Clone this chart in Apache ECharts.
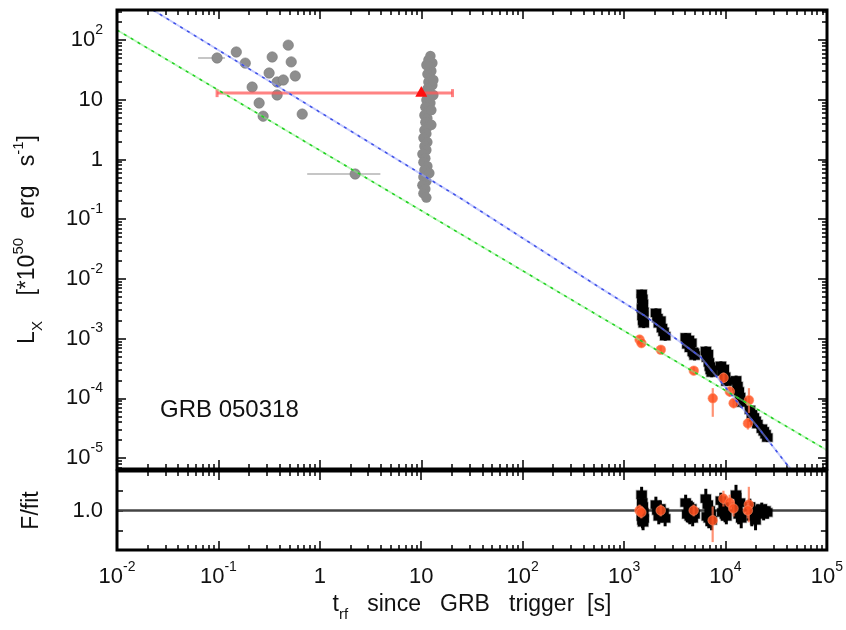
<!DOCTYPE html>
<html><head><meta charset="utf-8">
<script src="https://cdn.jsdelivr.net/npm/echarts@6/dist/echarts.min.js"></script>
<style>html,body{margin:0;padding:0;background:#fff}#c{width:846px;height:630px}</style>
</head><body><div id="c"></div>
<script>
// ---------------- data ----------------
const xRange = [1e-2, 1e5];
const yRange = [6.55e-6, 318];
const resRange = [0, 2];
const xTickExps = [-2, -1, 0, 1, 2, 3, 4, 5];
const yTickExps = [-5, -4, -3, -2, -1, 0, 1, 2];
const resTickVals = [0.5, 1.0, 1.5];
const resTickLabels = {'1': '1.0'};

// early gray (BAT/early) points
const earlyT = [0.097, 0.150, 0.184, 0.339, 0.488, 0.522, 0.572, 0.316, 0.379, 0.436, 0.215, 0.379, 0.252, 0.276, 0.67, 2.23];
const earlyL = [50, 63, 41, 52, 82, 43, 25, 28, 19.8, 21.4, 16.3, 12, 8.8, 5.3, 5.75, 0.57];
const earlyTlo = [0.063, null, null, null, null, null, null, null, null, null, null, null, null, null, null, 0.75];
const earlyThi = [0.116, null, null, null, null, null, null, null, null, null, null, null, null, null, null, 3.95];

// gray column near 10 s
const colT = [12.30, 11.75, 12.87, 12.02, 12.58, 11.49, 12.30, 11.75, 12.87, 11.49, 10.97, 12.02, 11.23, 12.30, 10.97, 11.75, 10.73, 11.49, 10.97, 11.75, 10.73, 11.23, 10.49, 11.49, 10.73, 11.23, 10.25, 10.97, 10.49, 11.49, 10.73, 12.02, 10.49, 11.23, 10.25, 10.97, 10.49, 11.23, 11.23, 13.16, 13.16, 12.58, 12.58];
const colL = [54.0, 46.2, 41.2, 35.3, 30.3, 26.9, 23.1, 19.8, 17.6, 15.1, 13.5, 11.5, 9.9, 8.8, 7.5, 6.5, 5.5, 4.9, 4.2, 3.6, 3.1, 2.7, 2.3, 1.95, 1.67, 1.44, 1.23, 1.05, 0.90, 0.77, 0.66, 0.59, 0.51, 0.43, 0.37, 0.32, 0.27, 0.23, 38.1, 21.4, 12.0, 6.7, 3.8];

// red point with horizontal error bar
const redT = [10], redL = [12.9], redTlo = [0.097], redThi = [20.3];

// late XRT (black), grouped in orbits
const xrtT = [1490, 1500, 1510, 1520, 1530, 1540, 1550, 1560,
  2060, 2130, 2200, 2280, 2360, 2450, 2540,
  4050, 4200, 4350, 4450, 4600, 4750, 4880, 4950,
  6400, 6550, 6700, 6850, 7000, 7150, 7300,
  9000, 9300, 9600, 9900, 10200,
  12700, 13100, 13500, 13900, 14300,
  17400, 18200, 19000, 19800, 20600,
  22800, 23800, 24800, 25800];
const xrtL = [5.6e-3, 3.2e-3, 4.6e-3, 2.4e-3, 3.8e-3, 2.0e-3, 2.8e-3, 1.8e-3,
  2.7e-3, 2.2e-3, 1.8e-3, 2.0e-3, 1.5e-3, 1.3e-3, 1.1e-3,
  1.05e-3, 8.0e-4, 9.5e-4, 7.0e-4, 8.5e-4, 6.0e-4, 5.8e-4, 5.2e-4,
  6.2e-4, 4.8e-4, 5.5e-4, 4.0e-4, 3.4e-4, 3.0e-4, 2.7e-4,
  3.5e-4, 2.8e-4, 3.1e-4, 2.3e-4, 1.9e-4,
  2.0e-4, 1.6e-4, 1.3e-4, 1.05e-4, 8.5e-5,
  6.4e-5, 5.4e-5, 4.8e-5, 4.2e-5, 3.7e-5,
  3.1e-5, 2.8e-5, 2.5e-5, 2.2e-5];
const xrtLlo = [4.7e-3, 2.7e-3, 3.9e-3, 2.0e-3, 3.2e-3, 1.7e-3, 2.35e-3, 1.5e-3,
  2.3e-3, 1.85e-3, 1.5e-3, 1.7e-3, 1.25e-3, 1.1e-3, 0.92e-3,
  8.8e-4, 6.7e-4, 8.0e-4, 5.9e-4, 7.1e-4, 5.0e-4, 4.8e-4, 4.3e-4,
  5.2e-4, 4.0e-4, 4.6e-4, 3.35e-4, 2.85e-4, 2.5e-4, 2.25e-4,
  2.9e-4, 2.35e-4, 2.6e-4, 1.9e-4, 1.6e-4,
  1.65e-4, 1.33e-4, 1.08e-4, 8.7e-5, 7.0e-5,
  5.3e-5, 4.5e-5, 4.0e-5, 3.5e-5, 3.1e-5,
  2.6e-5, 2.35e-5, 2.1e-5, 1.85e-5];
const xrtLhi = [6.6e-3, 3.8e-3, 5.4e-3, 2.85e-3, 4.5e-3, 2.35e-3, 3.3e-3, 2.1e-3,
  3.2e-3, 2.6e-3, 2.1e-3, 2.35e-3, 1.75e-3, 1.55e-3, 1.3e-3,
  1.24e-3, 9.4e-4, 1.12e-3, 8.3e-4, 1.0e-3, 7.1e-4, 6.9e-4, 6.2e-4,
  7.4e-4, 5.7e-4, 6.5e-4, 4.75e-4, 4.05e-4, 3.55e-4, 3.2e-4,
  4.15e-4, 3.3e-4, 3.7e-4, 2.75e-4, 2.25e-4,
  2.4e-4, 1.9e-4, 1.55e-4, 1.25e-4, 1.0e-4,
  7.6e-5, 6.4e-5, 5.7e-5, 5.0e-5, 4.4e-5,
  3.7e-5, 3.3e-5, 3.0e-5, 2.6e-5];
// residuals of XRT
const xrtRes = [1.4, 0.85, 1.2, 0.75, 1.1, 0.7, 0.95, 0.8,
  1.15, 1.0, 0.85, 1.05, 0.9, 0.95, 0.8,
  1.2, 0.9, 1.1, 0.85, 1.05, 0.8, 0.95, 0.9,
  1.3, 0.85, 1.15, 0.8, 1.0, 0.9, 0.75,
  1.25, 0.95, 1.1, 0.9, 0.85,
  1.4, 1.1, 0.9, 1.2, 0.8,
  1.1, 0.85, 1.0, 0.75, 0.95,
  1.05, 0.9, 1.0, 0.95];
const xrtResLo = [1.2, 0.65, 1.0, 0.55, 0.9, 0.5, 0.75, 0.6,
  0.95, 0.8, 0.65, 0.85, 0.7, 0.75, 0.6,
  1.0, 0.7, 0.9, 0.65, 0.85, 0.6, 0.75, 0.7,
  1.05, 0.6, 0.9, 0.55, 0.75, 0.65, 0.5,
  1.05, 0.75, 0.9, 0.7, 0.65,
  1.15, 0.85, 0.65, 0.95, 0.55,
  0.9, 0.6, 0.8, 0.5, 0.75,
  0.9, 0.75, 0.85, 0.8];
const xrtResHi = [1.6, 1.05, 1.4, 0.95, 1.3, 0.9, 1.15, 1.0,
  1.35, 1.2, 1.05, 1.25, 1.1, 1.15, 1.0,
  1.4, 1.1, 1.3, 1.05, 1.25, 1.0, 1.15, 1.1,
  1.55, 1.1, 1.4, 1.05, 1.25, 1.15, 1.0,
  1.45, 1.15, 1.3, 1.1, 1.05,
  1.65, 1.35, 1.15, 1.45, 1.05,
  1.3, 1.1, 1.2, 1.0, 1.15,
  1.2, 1.05, 1.15, 1.1];

// orange (optical) points
const optT = [1420, 1480, 2300, 4860, 7480, 9550, 11000, 12000, 17000, 16600];
const optL = [9.6e-4, 8.4e-4, 6.5e-4, 2.9e-4, 1.0e-4, 2.2e-4, 1.3e-4, 8.3e-5, 9.3e-5, 3.8e-5];
const optLlo = [8.2e-4, 7.2e-4, 5.6e-4, 2.5e-4, 4.9e-5, 1.8e-4, 1.05e-4, 6.8e-5, 5.7e-5, 3.0e-5];
const optLhi = [1.12e-3, 9.8e-4, 7.5e-4, 3.4e-4, 1.48e-4, 2.7e-4, 1.6e-4, 1.0e-4, 1.48e-4, 4.7e-5];
const optRes = [1.0, 0.95, 1.0, 1.0, 0.75, 1.3, 1.2, 1.05, 1.15, 1.0];
const optResLo = [0.85, 0.8, 0.85, 0.85, 0.2, 1.1, 1.0, 0.85, 0.7, 0.8];
const optResHi = [1.15, 1.1, 1.15, 1.15, 1.1, 1.5, 1.4, 1.25, 1.6, 1.2];

// model lines
const blueT = [0.0226, 24.3, 586, 1560, 5690, 20800, 39300, 44000];
const blueL = [318, 0.225, 7.0e-3, 2.48e-3, 4.9e-4, 3.3e-5, 8.2e-6, 6.6e-6];
const greenT = [0.01, 586, 1e5];
const greenL = [147, 2.3e-3, 1.35e-5];
const unityT = [0.01, 1e5];
const unityV = [1, 1];

// ---------------- chart ----------------
const F = "'Liberation Sans', Arial, Helvetica, sans-serif";
const INK = '#111';
const rich = {
  b: {fontSize: 22, fontFamily: F, color: INK, lineHeight: 34},
  s: {fontSize: 14, fontFamily: F, color: INK, verticalAlign: 'top', lineHeight: 14}
};
const richName = {
  n: {fontSize: 23, fontFamily: F, color: INK, lineHeight: 34},
  s: {fontSize: 15, fontFamily: F, color: INK, verticalAlign: 'top', lineHeight: 14},
  u: {fontSize: 15, fontFamily: F, color: INK, verticalAlign: 'bottom', lineHeight: 14}
};
function powLabel(v, exps) {
  const lg = Math.log10(v), e = Math.round(lg);
  if (Math.abs(lg - e) > 1e-6 || exps.indexOf(e) < 0) return '';
  if (e === 0) return '{b|1}';
  if (e === 1) return '{b|10}';
  return '{b|10}{s|' + e + '}';
}
const lg = Math.log10;
function minorLog(lo, hi) {
  const out = [];
  for (let k = Math.floor(lo); k <= Math.ceil(hi); k++)
    for (let m = 2; m <= 9; m++) { const v = k + lg(m); if (v > lo && v < hi) out.push(v); }
  return out;
}
const xl = [lg(xRange[0]), lg(xRange[1])], yl = [lg(yRange[0]), lg(yRange[1])];
const xMaj = xTickExps.slice(), yMaj = yTickExps.slice();
const xMin = minorLog(xl[0], xl[1]), yMin = minorLog(yl[0], yl[1]);

function deco(grid, pos, min, max, ticks, len) {
  return {type: 'value', gridIndex: grid, position: pos, min, max,
    axisLine: {show: false, onZero: false}, axisLabel: {show: false}, splitLine: {show: false},
    axisTick: {show: true, inside: true, length: len, customValues: ticks, lineStyle: {color: '#000', width: 1.5}}};
}
const noAx = {axisLine: {show: false, onZero: false}, splitLine: {show: false}};

const xAxis = [
  Object.assign({type: 'log', gridIndex: 0, min: xRange[0], max: xRange[1], axisTick: {show: false}, axisLabel: {show: false}}, noAx),
  Object.assign({type: 'log', gridIndex: 1, min: xRange[0], max: xRange[1], axisTick: {show: false},
    axisLabel: {margin: 10, formatter: v => powLabel(v, xTickExps), rich},
    name: '{n|t}{u|rf}{n|   since   GRB   trigger  [s]}', nameLocation: 'middle', nameGap: 38,
    nameTextStyle: {rich: richName}}, noAx),
  deco(0, 'bottom', xl[0], xl[1], xMaj, 9), deco(0, 'bottom', xl[0], xl[1], xMin, 5),
  deco(0, 'top', xl[0], xl[1], xMaj, 9), deco(0, 'top', xl[0], xl[1], xMin, 5),
  deco(1, 'bottom', xl[0], xl[1], xMaj, 9), deco(1, 'bottom', xl[0], xl[1], xMin, 5),
  deco(1, 'top', xl[0], xl[1], xMaj, 9), deco(1, 'top', xl[0], xl[1], xMin, 5)
];
const yAxis = [
  Object.assign({type: 'log', gridIndex: 0, min: yRange[0], max: yRange[1], axisTick: {show: false},
    axisLabel: {margin: 14, formatter: v => powLabel(v, yTickExps), rich},
    name: '{n|L}{u|X}{n|    [*10}{s|50}{n|   erg   s}{s|-1}{n|]}', nameLocation: 'middle', nameGap: 72, nameRotate: 90,
    nameTextStyle: {rich: richName}}, noAx),
  Object.assign({type: 'value', gridIndex: 1, min: resRange[0], max: resRange[1],
    axisTick: {show: true, inside: true, length: 6, customValues: resTickVals, lineStyle: {color: '#000', width: 1.5}},
    axisLabel: {margin: 14, customValues: resTickVals, formatter: v => resTickLabels[String(v)] || '', fontSize: 22, fontFamily: F, color: INK},
    name: 'F/fit', nameLocation: 'middle', nameGap: 74, nameRotate: 90,
    nameTextStyle: {fontSize: 23, fontFamily: F, color: INK}}, noAx),
  deco(0, 'left', yl[0], yl[1], yMaj, 9), deco(0, 'left', yl[0], yl[1], yMin, 5),
  deco(0, 'right', yl[0], yl[1], yMaj, 9), deco(0, 'right', yl[0], yl[1], yMin, 5),
  deco(1, 'right', resRange[0], resRange[1], resTickVals, 6)
];

function zip(...arrs) { return arrs[0].map((_, i) => arrs.map(a => a[i] == null ? null : a[i])); }

function errSeries(xi, yi, data, st) {
  return {
    type: 'custom', xAxisIndex: xi, yAxisIndex: yi, data, z: st.z || 5, clip: true,
    encode: {x: 0, y: 1}, silent: true,
    renderItem: (params, api) => {
      const t = api.value(0), v = api.value(1);
      const p = api.coord([t, v]);
      const ch = [];
      const lo = api.value(2), hi = api.value(3), tl = api.value(4), th = api.value(5);
      if (isFinite(lo) && isFinite(hi) && (lo > 0 || yi === 1)) {
        const a = api.coord([t, lo]), b = api.coord([t, hi]);
        ch.push({type: 'line', shape: {x1: p[0], y1: a[1], x2: p[0], y2: b[1]}, style: {stroke: st.bar, lineWidth: st.barW}});
      }
      if (isFinite(tl) && isFinite(th) && tl > 0) {
        const a = api.coord([tl, v]), b = api.coord([th, v]);
        const s = {stroke: st.hbar || st.bar, lineWidth: st.hbarW || st.barW};
        ch.push({type: 'line', shape: {x1: a[0], y1: p[1], x2: b[0], y2: p[1]}, style: s});
        if (st.caps) {
          ch.push({type: 'line', shape: {x1: a[0], y1: p[1] - st.caps, x2: a[0], y2: p[1] + st.caps}, style: s});
          ch.push({type: 'line', shape: {x1: b[0], y1: p[1] - st.caps, x2: b[0], y2: p[1] + st.caps}, style: s});
        }
      }
      const r = st.r;
      if (st.shape === 'rect') ch.push({type: 'rect', shape: {x: p[0] - r, y: p[1] - r * 0.8, width: 2 * r, height: 1.6 * r}, style: {fill: st.fill, stroke: st.stroke || null, lineWidth: 1.5}});
      else if (st.shape === 'tri') ch.push({type: 'polygon', shape: {points: [[p[0], p[1] - r * 1.2], [p[0] - r, p[1] + r * 0.6], [p[0] + r, p[1] + r * 0.6]]}, style: {fill: st.fill}});
      else ch.push({type: 'circle', shape: {cx: p[0], cy: p[1], r}, style: {fill: st.fill, stroke: st.stroke || null, lineWidth: 1}});
      return {type: 'group', children: ch};
    }
  };
}
function lineSeries(xi, yi, T, V, color, width, dash, z) {
  return {type: 'line', xAxisIndex: xi, yAxisIndex: yi, data: zip(T, V), symbol: 'none', silent: true, z: z || 10,
    lineStyle: {color, width, type: dash || 'solid'}, clip: true};
}

const blackSt = {r: 5.2, shape: 'rect', fill: '#000', stroke: 'rgba(0,0,0,0.3)', bar: '#000', barW: 3};
const orangeSt = {r: 4.8, fill: 'rgba(255,80,30,0.85)', stroke: 'rgba(255,140,100,0.6)', bar: 'rgba(255,110,70,0.75)', barW: 2.2, z: 6};

const chart = echarts.init(document.getElementById('c'), null, {renderer: 'canvas'});
chart.setOption({
  animation: false,
  backgroundColor: '#fff',
  title: {text: 'GRB 050318', left: 160, top: 398, padding: 0,
    textStyle: {fontSize: 24, fontWeight: 'normal', fontFamily: F, color: INK}},
  grid: [
    {left: 117, right: 19, top: 10, height: 459, show: true, borderColor: '#000', borderWidth: 3, backgroundColor: 'transparent', z: 20},
    {left: 117, right: 19, top: 471, height: 79, show: true, borderColor: '#000', borderWidth: 3, backgroundColor: 'transparent', z: 20}
  ],
  xAxis, yAxis,
  series: [
    errSeries(0, 0, zip(earlyT, earlyL, earlyT.map(() => null), earlyT.map(() => null), earlyTlo, earlyThi),
      {r: 5.2, fill: '#8e8e8e', stroke: 'rgba(120,120,120,0.6)', bar: 'rgba(160,160,160,0.6)', barW: 2}),
    errSeries(0, 0, zip(colT, colL), {r: 5.2, fill: '#8a8a8a', bar: '#8a8a8a', barW: 1}),
    errSeries(0, 0, zip(redT, redL, [null], [null], redTlo, redThi),
      {r: 6, shape: 'tri', fill: '#ff1010', bar: 'rgba(255,90,90,0.75)', barW: 3, caps: 4, z: 7}),
    errSeries(0, 0, zip(xrtT, xrtL, xrtLlo, xrtLhi), blackSt),
    errSeries(0, 0, zip(optT, optL, optLlo, optLhi), orangeSt),
    errSeries(1, 1, zip(xrtT, xrtRes, xrtResLo, xrtResHi), blackSt),
    errSeries(1, 1, zip(optT, optRes, optResLo, optResHi), orangeSt),
    lineSeries(0, 0, blueT, blueL, 'rgba(150,160,255,0.55)', 2, 'solid', 9),
    lineSeries(0, 0, blueT, blueL, '#3d4fe6', 1.5, [3, 5], 10),
    lineSeries(0, 0, greenT, greenL, 'rgba(130,240,130,0.55)', 2, 'solid', 9),
    lineSeries(0, 0, greenT, greenL, '#1fcf1f', 1.5, [3, 5], 10),
    lineSeries(1, 1, unityT, unityV, '#444', 2.5, 'solid', 4)
  ]
});
</script>
</body></html>
